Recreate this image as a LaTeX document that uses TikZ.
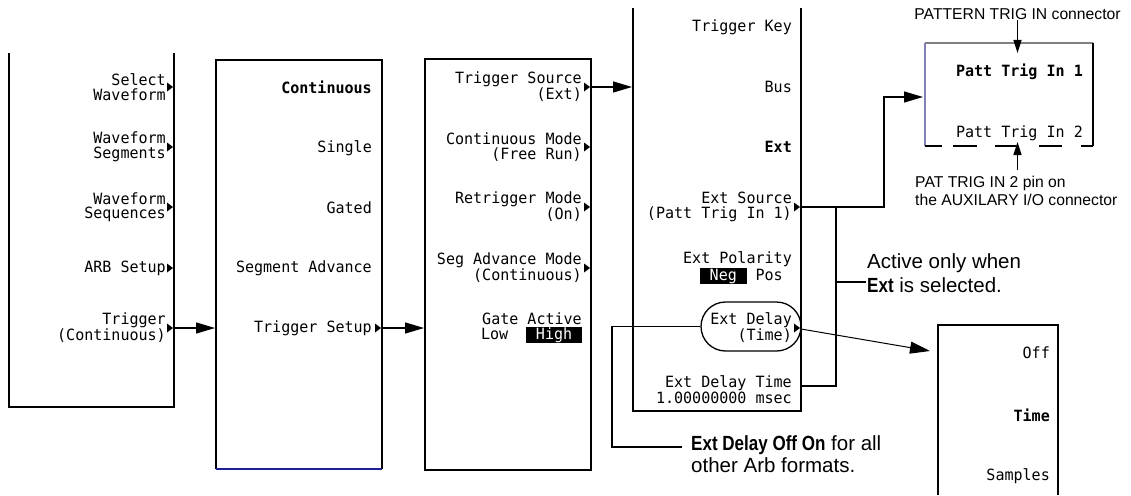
\documentclass[tikz,border=0pt]{standalone}
\usepackage{fontspec}
\usetikzlibrary{arrows.meta,shapes.misc}
\newfontfamily\lcd[FakeStretch=0.97]{DejaVu Sans Mono}
\newfontfamily\annfont{Liberation Sans}
\newfontfamily\annbold[FakeStretch=0.83]{Liberation Sans}
\newcommand\hlbox[1]{{\setlength\fboxsep{0.6pt}\colorbox{black}{\textcolor{white}{\vphantom{Hg}#1}}}}
\definecolor{navyline}{RGB}{30,30,150}
\definecolor{pattleft}{RGB}{130,130,180}
\begin{document}
\begin{tikzpicture}[x=1pt,y=-1pt,
  box/.style={line width=1.8pt},
  conn/.style={line width=1.4pt},
  arr/.style={line width=1.4pt,-{Triangle[length=19pt,width=11pt]}},
  arrs/.style={line width=1.4pt,-{Triangle[length=13pt,width=8pt]}},
  arrthin/.style={line width=1pt,-{Triangle[length=20pt,width=12pt]}},
  menu/.style={font=\lcd\fontsize{15.5}{14.5}\selectfont, inner sep=0pt, anchor=east, align=right},
  menub/.style={menu, font=\lcd\bfseries\fontsize{15.5}{14.5}\selectfont},
  callout/.style={font=\annfont\fontsize{20.5}{24}\selectfont, inner sep=0pt, anchor=base west},
  conlabel/.style={font=\annfont\fontsize{15.7}{18}\selectfont, inner sep=0pt},
]
\useasboundingbox (0,0) rectangle (1131,495);
\newcommand\mtick[1]{\fill (#1) -- ++(-6,-4.5) -- ++(0,9) -- cycle;}

% ---- boxes
\draw[box] (9,53) -- (9,407) -- (174,407) -- (174,53);
\draw[box] (216,469) -- (216,60) -- (382,60) -- (382,469);
\draw[box, draw=navyline] (216,469) -- (382,469);
\draw[box] (425,59) rectangle (591,470);
\draw[box] (633,8) -- (633,411) -- (801,411) -- (801,8);
\draw[box] (938,495) -- (938,325) -- (1058,325) -- (1058,495);
\draw[line width=1.3pt, draw=gray] (925,43) -- (1093,43);
\draw[line width=1.3pt, draw=pattleft] (925,43) -- (925,146);
\draw[line width=1.6pt] (1093,43) -- (1093,146);
\draw[line width=1.8pt] (925,146) -- (942,146) (953,146) -- (977,146) (995,146) -- (1018,146) (1039,146) -- (1062,146) (1081,146) -- (1093,146);

% ---- box 1
\node[menu] (sw) at (166,87) {Select\\Waveform};
\node[menu] (wsg) at (166,147) {Waveform\\Segments};
\node[menu] (wsq) at (166,207) {Waveform\\Sequences};
\node[menu] (arb) at (166,268) {ARB Setup};
\node[menu] (trc) at (166,328) {Trigger\\(Continuous)};
\mtick{173,87} \mtick{173,147} \mtick{173,207} \mtick{173,268} \mtick{173,328}

% ---- box 2
\node[menub] (cont) at (372,87) {Continuous};
\node[menu] (sing) at (372,148) {Single};
\node[menu] (gat) at (372,208) {Gated};
\node[menu] (sadv) at (372,268) {Segment Advance};
\node[menu] (tset) at (372,328) {Trigger Setup};
\mtick{381,328}

% ---- box 3
\node[menu] (tsrc) at (582,87) {Trigger Source\\(Ext)};
\node[menu] (cmode) at (582,147) {Continuous Mode\\(Free Run)};
\node[menu] (rmode) at (582,207) {Retrigger Mode\\(On)};
\node[menu] (smode) at (582,268) {Seg Advance Mode\\(Continuous)};
\node[menu] (gact) at (582,328) {Gate Active\\Low~~\hlbox{~High~}};
\mtick{590,87} \mtick{590,147} \mtick{590,207} \mtick{590,268}

% ---- box 4
\node[draw, rounded rectangle, line width=1.3pt, minimum width=100pt, minimum height=49pt, inner sep=0pt] (oval) at (751,326.5) {};
\node[menu] (tkey) at (792,27) {Trigger Key};
\node[menu] (bus) at (792,87) {Bus};
\node[menub] (ext) at (792,147) {Ext};
\node[menu] (esrc) at (792,207) {Ext Source\\(Patt Trig In 1)};
\node[menu] (epol) at (792,268) {Ext Polarity\\\hlbox{~Neg~}~Pos\hphantom{x}};
\node[menu] (edel) at (792,328) {Ext Delay\\(Time)};
\node[menu] (edt) at (792,390) {Ext Delay Time\\1.00000000 msec};
\mtick{800,207} \mtick{800,328}

% ---- box 5
\node[menu] (off) at (1050,353) {Off};
\node[menub] (time) at (1050,415) {Time};
\node[menu] (samp) at (1050,476) {Samples};

% ---- box 6
\node[menub] (pti1) at (1083,72) {Patt Trig In 1};
\node[menu] (pti2) at (1083,133) {Patt Trig In 2};

% ---- annotations
\node[conlabel, anchor=base] (ptin) at (1017.5,20) {PATTERN TRIG IN connector};
\node[conlabel, anchor=base west] (pt2a) at (915,187) {PAT TRIG IN 2 pin on};
\node[conlabel, anchor=base west] (pt2b) at (915,205) {the AUXILARY I/O connector};
\node[callout] (act1) at (867,268) {Active only when};
\node[callout] (act2) at (867,292) {{\annbold\bfseries Ext} is selected.};
\node[callout] (edo1) at (691,450) {{\annbold\bfseries Ext Delay Off On} for all};
\node[callout] (edo2) at (691,472) {other Arb formats.};

% ---- connectors
\coordinate (o1) at (174,328); \coordinate (i2) at (215,328);
\coordinate (o2) at (382,328); \coordinate (i3) at (424,328);
\coordinate (o3) at (591,87);  \coordinate (i4) at (632,87);
\coordinate (o4s) at (801,207); \coordinate (k1) at (884,207); \coordinate (i6) at (923,97);
\coordinate (j1) at (836,207); \coordinate (j2) at (836,386); \coordinate (o4t) at (801,386);
\coordinate (j3) at (836,282); \coordinate (actp) at (866,282);
\coordinate (o4d) at (801,329); \coordinate (i5) at (930,351);
\coordinate (c1) at (612,447); \coordinate (c2) at (682,447);
\coordinate (p1in) at (1017.5,53);
\coordinate (p2src) at (1017.5,170); \coordinate (p2in) at (1017.5,142);

\draw[arr] (o1) -- (i2);
\draw[arr] (o2) -- (i3);
\draw[arr] (o3) -- (i4);
\draw[arr] (o4s) -- (k1) |- (i6);
\draw[conn] (j1) -- (j2) -- (o4t);
\draw[conn] (j3) -- (actp);
\draw[arrthin] (o4d) -- (i5);
\draw[conn] (oval.west) -| (c1) -- (c2);
\draw[arrs] (ptin.south) -- (p1in);
\draw[arrs] (p2src) -- (p2in);
\end{tikzpicture}
\end{document}
